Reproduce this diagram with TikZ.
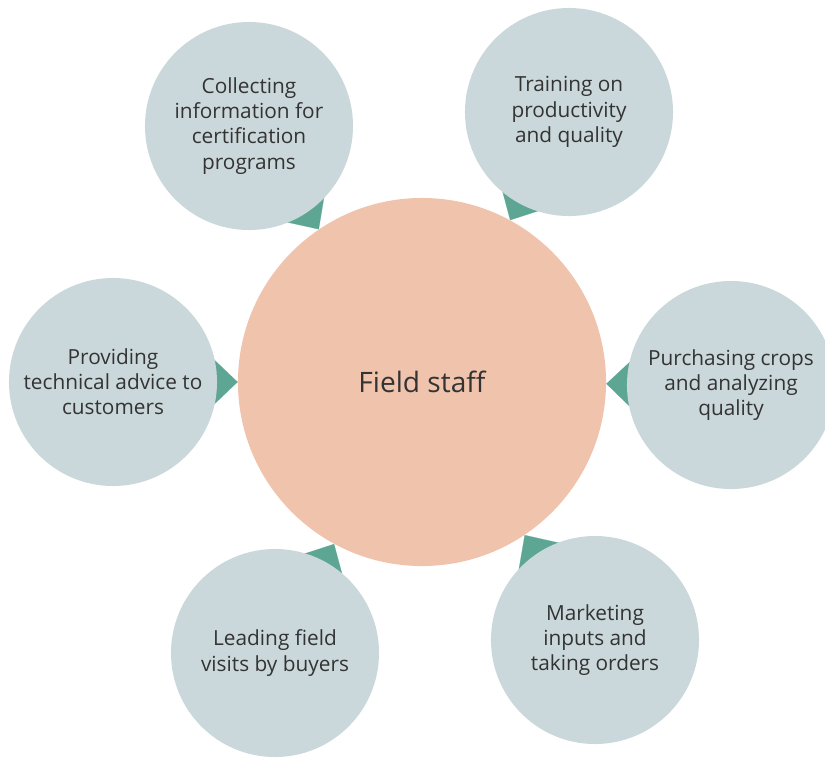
\documentclass[tikz,border=0pt]{standalone}
\usepackage{fontspec}
\setmainfont{Open Sans}
\usetikzlibrary{arrows.meta,backgrounds}
\definecolor{outerfill}{RGB}{203,216,219}
\definecolor{corefill}{RGB}{240,195,173}
\definecolor{tipfill}{RGB}{94,166,148}
\definecolor{txtgray}{RGB}{51,51,51}

\begin{document}
\begin{tikzpicture}[x=0.025cm,y=-0.025cm]
      \tikzstyle{cnode} = [circle, fill=corefill, minimum size=9.2cm, inner sep=0pt, text=txtgray, font=\fontsize{20}{24}\selectfont]
      \tikzstyle{onode} = [circle, fill=outerfill, minimum size=5.2cm, inner sep=0pt, align=center, text=txtgray, font=\fontsize{14.8}{17.9}\selectfont]
      \tikzstyle{tedge} = [tipfill, line width=0.1pt, -{Triangle[width=1.9cm,length=1cm]}]

      \useasboundingbox (0,0) rectangle (825,758);
      \clip (0,0) rectangle (825,758);

      \node[cnode] (c0) at (422,382) {Field staff};

      \node[onode] (c1) at (249,126) {Collecting\\information for\\certification\\programs};
      \node[onode] (c2) at (569,112) {Training on\\productivity\\and quality};
      \node[onode] (c3) at (731,385) {Purchasing crops\\and analyzing\\quality};
      \node[onode] (c4) at (595,640) {Marketing\\inputs and\\taking orders};
      \node[onode] (c5) at (275,653) {Leading field\\visits by buyers};
      \node[onode] (c6) at (113,382) {Providing\\technical advice to\\customers};

      % edges outer to center
      \begin{scope}[on background layer]
        \draw[tedge] (c1) -- (c0);
        \draw[tedge] (c2) -- (c0);
        \draw[tedge] (c3) -- (c0);
        \draw[tedge] (c4) -- (c0);
        \draw[tedge] (c5) -- (c0);
        \draw[tedge] (c6) -- (c0);
      \end{scope}
\end{tikzpicture}
\end{document}
